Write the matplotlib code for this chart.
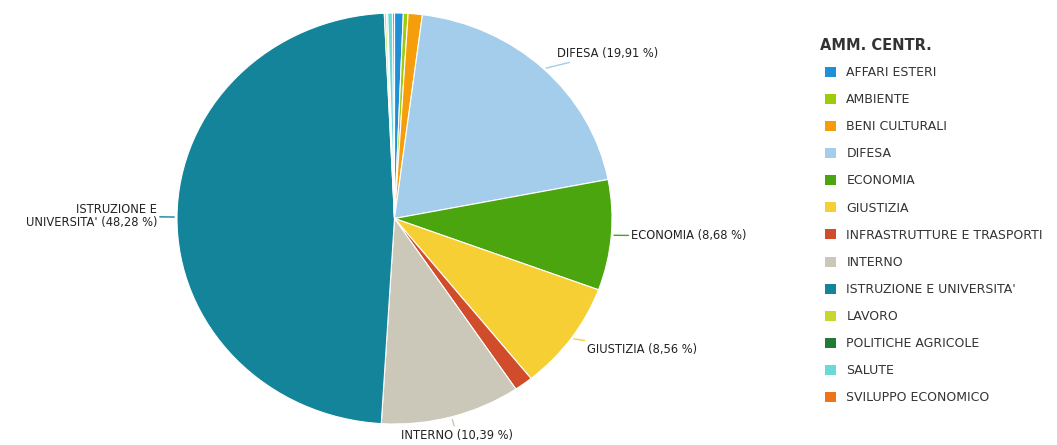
import numpy as np
import matplotlib
matplotlib.use("Agg")
import matplotlib.pyplot as plt
from matplotlib.patches import Patch

# Dati: quota per amministrazione centrale (%)
categorie = ["AFFARI ESTERI", "AMBIENTE", "BENI CULTURALI", "DIFESA", "ECONOMIA",
             "GIUSTIZIA", "INFRASTRUTTURE E TRASPORTI", "INTERNO",
             "ISTRUZIONE E UNIVERSITA'", "LAVORO", "POLITICHE AGRICOLE",
             "SALUTE", "SVILUPPO ECONOMICO"]
valori = [0.65, 0.35, 1.05, 19.91, 8.68, 8.56, 1.38, 10.39, 48.28,
          0.15, 0.10, 0.35, 0.15]
etichette = ["", "", "", "DIFESA", "ECONOMIA", "GIUSTIZIA", "", "INTERNO",
             "ISTRUZIONE E\nUNIVERSITA'", "", "", "", ""]
colori = ["#1f8fd8", "#9ccc0a", "#f59d0b", "#a3cdeb", "#4ba50e", "#f5cf33",
          "#d04c2a", "#cbc7b9", "#13849a", "#c9d62c", "#217a35", "#6ad9d9",
          "#ef7417"]

W, H = 1057, 445
fig = plt.figure(figsize=(W / 100, H / 100), dpi=100)

# il grafico originale e' leggermente schiacciato in verticale
cx, cy, rx, ry = 394.5, 218.5, 217.5, 205.5
ax = fig.add_axes([(cx - rx) / W, (H - cy - ry) / H, 2 * rx / W, 2 * ry / H])
wedges, _ = ax.pie(valori, colors=colori, startangle=90, counterclock=False,
                   radius=1, wedgeprops=dict(edgecolor="white", linewidth=0.8))
ax.set_xlim(-1, 1)
ax.set_ylim(-1, 1)
ax.set_aspect("auto")
ax.axis("off")

# etichette con connettori colorati
for w, lab, v, c in zip(wedges, etichette, valori, colori):
    if not lab:
        continue
    ang = np.deg2rad((w.theta1 + w.theta2) / 2)
    dx, dy = np.cos(ang), np.sin(ang)
    if dx > 0.3:
        ha = "left"
    elif dx < -0.3:
        ha = "right"
    else:
        ha = "center"
    testo = lab + " (" + f"{v:.2f}".replace(".", ",") + " %)"
    ax.annotate(testo, xy=(dx, dy), xytext=(dx * 20, dy * 20 + 1),
                textcoords="offset pixels", ha=ha, va="center",
                fontsize=8.3, color="#222222", linespacing=1.0,
                arrowprops=dict(arrowstyle="-", color=c, lw=1,
                                shrinkA=0, shrinkB=2),
                annotation_clip=False)

fig.text(820 / W, 1 - 45 / H, "AMM. CENTR.", fontsize=10.5, fontweight="bold",
         color="#333333", ha="left", va="center")

handles = [Patch(facecolor=c, edgecolor="none") for c in colori]
leg = fig.legend(handles, categorie, loc="upper left",
                 bbox_to_anchor=(825 / W, 1 - 66 / H), frameon=False,
                 fontsize=9, handlelength=0.85, handleheight=0.85,
                 handletextpad=0.85, labelspacing=1.13,
                 borderaxespad=0, borderpad=0)
for t in leg.get_texts():
    t.set_color("#333333")

fig.savefig("out.png", dpi=100)
